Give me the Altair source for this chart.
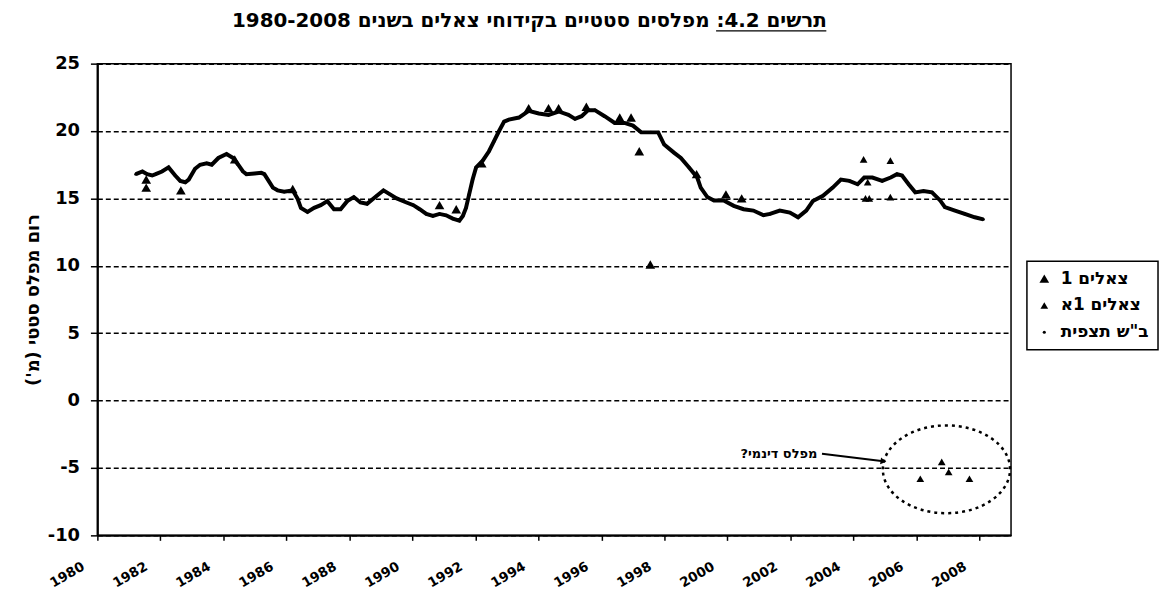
import altair as alt
import pandas as pd

# ---- data ----
obs_years = [1981.22, 1981.43, 1981.58, 1981.74, 1981.85, 1982.05, 1982.26, 1982.47, 1982.63, 1982.79,
             1982.90, 1983.10, 1983.26, 1983.47, 1983.63, 1983.84, 1984.10, 1984.31, 1984.47, 1984.62,
             1984.73, 1984.99, 1985.20, 1985.30, 1985.57, 1985.72, 1985.93, 1986.20, 1986.35, 1986.46,
             1986.67, 1986.88, 1987.09, 1987.30, 1987.51, 1987.72, 1987.93, 1988.14, 1988.35, 1988.56,
             1988.87, 1989.08, 1989.29, 1989.50, 1989.81, 1990.03, 1990.23, 1990.44, 1990.65, 1990.86,
             1991.07, 1991.28, 1991.49, 1991.60, 1991.70, 1991.80, 1991.91, 1992.02, 1992.23, 1992.43,
             1992.59, 1992.75, 1992.91, 1993.06, 1993.38, 1993.69, 1994.01, 1994.32, 1994.64, 1994.95,
             1995.16, 1995.37, 1995.58, 1995.79, 1996.10, 1996.42, 1996.73, 1997.00, 1997.26, 1997.57,
             1997.80, 1997.99, 1998.30, 1998.52, 1998.78, 1999.04, 1999.15, 1999.36, 1999.57, 1999.88,
             2000.20, 2000.51, 2000.82, 2001.14, 2001.35, 2001.66, 2001.98, 2002.24, 2002.50, 2002.71,
             2003.03, 2003.34, 2003.60, 2003.87, 2004.13, 2004.34, 2004.60, 2004.91, 2005.18, 2005.38,
             2005.54, 2005.75, 2005.96, 2006.22, 2006.49, 2006.75, 2006.90, 2007.22, 2007.53, 2007.85,
             2008.12]
obs_vals = [16.8, 17.0, 16.8, 16.7, 16.8, 17.0, 17.3, 16.7, 16.3, 16.2,
            16.4, 17.2, 17.5, 17.6, 17.5, 18.0, 18.3, 18.0, 17.5, 17.0,
            16.8, 16.85, 16.9, 16.8, 15.8, 15.6, 15.5, 15.6, 15.0, 14.3,
            14.0, 14.3, 14.5, 14.8, 14.2, 14.2, 14.8, 15.1, 14.7, 14.6,
            15.2, 15.6, 15.3, 15.0, 14.7, 14.5, 14.2, 13.85, 13.7, 13.85,
            13.75, 13.5, 13.35, 13.7, 14.3, 15.3, 16.4, 17.3, 17.8, 18.5,
            19.25, 20.0, 20.7, 20.85, 21.0, 21.5, 21.3, 21.2, 21.45, 21.2,
            20.9, 21.1, 21.55, 21.55, 21.1, 20.6, 20.6, 20.4, 19.9, 19.9,
            19.9, 19.0, 18.4, 18.0, 17.3, 16.55, 15.8, 15.1, 14.85, 14.85,
            14.45, 14.2, 14.1, 13.75, 13.85, 14.1, 13.95, 13.6, 14.1, 14.8,
            15.2, 15.8, 16.4, 16.3, 16.05, 16.55, 16.55, 16.3, 16.55, 16.8,
            16.7, 16.05, 15.45, 15.55, 15.45, 14.85, 14.35, 14.1, 13.85, 13.6,
            13.45]

z1_years = [1981.55, 1981.55, 1982.65, 1984.36, 1986.20, 1990.86, 1991.39, 1992.20, 1993.69, 1994.32,
            1994.64, 1995.52, 1996.58, 1996.94, 1997.20, 1997.55, 1999.02, 1999.95, 2000.45]
z1_vals = [16.4, 15.8, 15.6, 17.9, 15.7, 14.5, 14.2, 17.6, 21.7, 21.7,
           21.7, 21.8, 21.0, 21.0, 18.5, 10.1, 16.8, 15.3, 15.0]

z1a_years = [2004.32, 2004.45, 2004.38, 2004.50, 2005.17, 2005.17, 2006.12, 2006.80, 2007.02, 2007.68]
z1a_vals = [17.9, 16.2, 15.0, 15.0, 17.8, 15.1, -5.8, -4.55, -5.3, -5.8]

series_names = ["צאלים 1", "צאלים 1א", 'ב"ש תצפית']

x_ticks = list(range(1980, 2009, 2))
y_ticks = list(range(-10, 26, 5))

title_text = ["תרשים 4.2: מפלסים סטטיים בקידוחי צאלים בשנים 1980-2008"]
y_title = "רום מפלס סטטי (מ')"

note_text = ["?מפלס דינמי"]
note_x = [2002.85]
note_y = [-3.95]
arrow_x = [2003.0]
arrow_x2 = [2004.95]
arrow_y = [-3.95]
arrow_y2 = [-4.5]
ellipse_x = [2006.95]
ellipse_y = [-5.1]

# ---- tables ----
df_line = pd.DataFrame({"year": obs_years, "val": obs_vals})
df_pts = pd.concat([
    pd.DataFrame({"year": z1_years, "val": z1_vals, "series": series_names[0]}),
    pd.DataFrame({"year": z1a_years, "val": z1a_vals, "series": series_names[1]}),
    pd.DataFrame({"year": obs_years, "val": obs_vals, "series": series_names[2]}),
], ignore_index=True)
df_note = pd.DataFrame({"year": note_x, "val": note_y, "t": note_text})
df_arrow = pd.DataFrame({"x": arrow_x, "x2": arrow_x2, "y": arrow_y, "y2": arrow_y2})
df_ell = pd.DataFrame({"year": ellipse_x, "val": ellipse_y})
df_title = pd.DataFrame({"t": title_text})

FONT = "DejaVu Sans, Liberation Sans, Arial"

xscale = alt.Scale(domain=[1980, 2009], nice=False, zero=False)
yscale = alt.Scale(domain=[-10, 25], nice=False, zero=False)

xaxis = alt.Axis(values=x_ticks, format="d", labelAngle=-30, labelFont=FONT, labelFontSize=13.5,
                 labelFontWeight="bold", labelColor="black", tickColor="black", tickSize=5,
                 tickWidth=1.5, domainColor="black", domainWidth=2, grid=False, title=None,
                 labelPadding=19, labelOffset=-18, labelOverlap=False)
yaxis = alt.Axis(values=y_ticks, labelExpr="'' + datum.value", labelFont=FONT, labelFontSize=18,
                 labelFontWeight="bold",
                 labelColor="black", tickColor="black", tickSize=7, tickWidth=1.5,
                 domainColor="black", domainWidth=2, grid=True, gridDash=[5, 3],
                 gridColor="black", gridWidth=1.5, gridOpacity=1, title=y_title,
                 titleFont=FONT, titleFontSize=18, titleFontWeight="bold", titleColor="black",
                 titlePadding=5, labelPadding=11)

X = alt.X("year:Q", scale=xscale, axis=xaxis)
Y = alt.Y("val:Q", scale=yscale, axis=yaxis)

line = alt.Chart(df_line).mark_line(color="black", strokeWidth=4).encode(x=X, y=Y)

leg = alt.Legend(orient="none", legendX=936, legendY=199, title=None, strokeColor="black",
                 padding=9, labelFont=FONT, labelFontSize=17,
                 labelFontWeight="bold", labelColor="black", rowPadding=9, symbolStrokeWidth=0,
                 labelOffset=8)

points = alt.Chart(df_pts).mark_point(filled=True, opacity=1, strokeWidth=0).encode(
    x="year:Q", y="val:Q",
    shape=alt.Shape("series:N", scale=alt.Scale(domain=series_names,
                    range=["triangle-up", "triangle-up", "circle"]), legend=leg),
    size=alt.Size("series:N", scale=alt.Scale(type="ordinal", domain=series_names, range=[95, 60, 10]),
                  legend=leg),
    color=alt.Color("series:N", scale=alt.Scale(domain=series_names, range=["black", "black", "black"]),
                    legend=leg),
)

note = alt.Chart(df_note).mark_text(font=FONT, fontSize=13, fontWeight="bold", color="black",
                                    align="right", baseline="middle").encode(x="year:Q", y="val:Q", text="t:N")

arrow = alt.Chart(df_arrow).mark_rule(color="black", strokeWidth=2).encode(
    x="x:Q", x2="x2:Q", y="y:Q", y2="y2:Q")
arrow_head = alt.Chart(df_arrow).mark_point(shape="triangle-right", filled=True, color="black",
                                            size=45, angle=8, opacity=1).encode(x="x2:Q", y="y2:Q")

ell_path = "M -1 0 A 1 0.69 0 1 1 1 0 A 1 0.69 0 1 1 -1 0 Z"
ellipse = alt.Chart(df_ell).mark_point(shape=ell_path, filled=False, stroke="black", strokeWidth=2.5,
                                       strokeDash=[3, 4], size=16400, opacity=1).encode(
    x="year:Q", y="val:Q")

# chart title drawn as text above the plot, with the underline under "תרשים 4.2:"
title = alt.Chart(df_title).mark_text(font=FONT, fontSize=20, fontWeight="bold", color="black",
                                      align="center", baseline="alphabetic").encode(
    x=alt.value(435), y=alt.value(-37), text="t:N")
underline = alt.Chart(df_title).mark_rule(color="black", strokeWidth=1.5).encode(
    x=alt.value(623), x2=alt.value(734), y=alt.value(-33))

chart = alt.layer(line, points, ellipse, arrow, arrow_head, note, title, underline).properties(
    width=920, height=475,
    padding={"left": 90, "top": 54, "right": 150, "bottom": 56},
    autosize=alt.AutoSizeParams(type="none"),
).configure_view(stroke="black", strokeWidth=1.5).configure_legend(strokeWidth=1.5)

chart.save("out.html", embed_options={"renderer": "svg", "actions": False})
